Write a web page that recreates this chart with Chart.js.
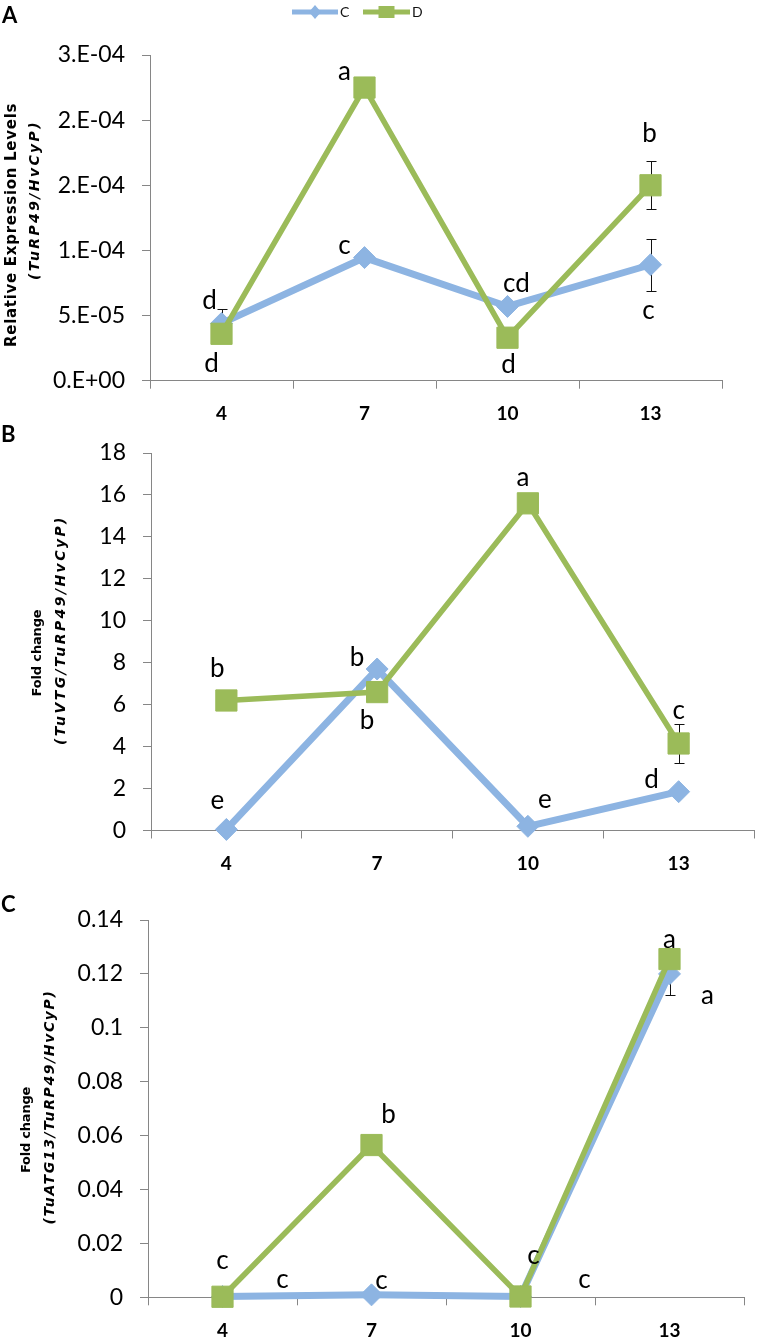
<!DOCTYPE html>
<html>
<head>
<meta charset="utf-8">
<script src="https://cdn.jsdelivr.net/npm/chart.js@4.4.1/dist/chart.umd.min.js"></script>
<style>
  html, body { margin: 0; padding: 0; background: #fff; overflow: hidden; }
  #wrap { position: relative; width: 770px; height: 1340px; overflow: hidden; }
  canvas { position: absolute; left: 0; }
</style>
</head>
<body>
<div id="wrap">
  <canvas id="chartA" width="770" height="430" style="top:0px;width:770px;height:430px"></canvas>
  <canvas id="chartB" width="770" height="460" style="top:420px;width:770px;height:460px"></canvas>
  <canvas id="chartC" width="770" height="467" style="top:880px;width:770px;height:467px"></canvas>
</div>
<script>
// days after treatment (x categories, shared by the three panels)
const days = ['4', '7', '10', '13'];
const seriesNames = ['C', 'D'];

// A - relative expression TuRP49/HvCyP
const relC = [4.4e-5, 9.45e-5, 5.7e-5, 8.9e-5];
const relD = [3.6e-5, 2.25e-4, 3.3e-5, 1.5e-4];
const relErrC = [1.1e-5, 0, 0, 2.0e-5];
const relErrD = [0, 0, 0, 1.85e-5];
const relTicks = ['0.E+00', '5.E-05', '1.E-04', '2.E-04', '2.E-04', '3.E-04'];
const relLetC = ['d', 'c', 'cd', 'c'];
const relLetD = ['d', 'a', 'd', 'b'];

// B - fold change TuVTG
const vtgC = [0.05, 7.7, 0.2, 1.85];
const vtgD = [6.2, 6.6, 15.6, 4.15];
const vtgErrC = [0, 0, 0, 0];
const vtgErrD = [0, 0, 0, 0.93];
const vtgTicks = ['0', '2', '4', '6', '8', '10', '12', '14', '16', '18'];
const vtgLetC = ['e', 'b', 'e', 'd'];
const vtgLetD = ['b', 'b', 'a', 'c'];

// C - fold change TuATG13
const atgC = [0.0003, 0.0009, 0.0003, 0.12];
const atgD = [0.0002, 0.0565, 0.0003, 0.1255];
const atgErrC = [0, 0, 0, 0.008];
const atgErrD = [0, 0, 0, 0];
const atgTicks = ['0', '0.02', '0.04', '0.06', '0.08', '0.1', '0.12', '0.14'];
const atgLetC = ['c', 'c', 'c', 'a'];
const atgLetD = ['c', 'b', 'c', 'a'];

const blue = '#8DB4E2';
const green = '#9BBB59';
const axisGrey = '#868686';

// error bars, significance letters, rotated axis titles, panel letter, legend
const decor = {
  id: 'decor',
  beforeDatasetsDraw(chart) {
    const ctx = chart.ctx;
    const y = chart.scales.y;
    ctx.save();
    ctx.strokeStyle = '#111';
    ctx.lineWidth = 1;
    chart.data.datasets.forEach((ds, di) => {
      const meta = chart.getDatasetMeta(di);
      (ds.errors || []).forEach((e, i) => {
        if (!e) return;
        const px = Math.round(meta.data[i].x) + 0.5;
        const top = Math.round(y.getPixelForValue(ds.data[i] + e)) + 0.5;
        const bot = Math.round(y.getPixelForValue(ds.data[i] - e)) + 0.5;
        ctx.beginPath();
        ctx.moveTo(px, top); ctx.lineTo(px, bot);
        ctx.moveTo(px - 5, top); ctx.lineTo(px + 5, top);
        ctx.moveTo(px - 5, bot); ctx.lineTo(px + 5, bot);
        ctx.stroke();
      });
    });
    ctx.restore();
  },
  afterDatasetsDraw(chart) {
    const ctx = chart.ctx;
    ctx.save();
    ctx.fillStyle = '#000';
    ctx.font = '26px Lato';
    ctx.textAlign = 'center';
    ctx.textBaseline = 'alphabetic';
    chart.data.datasets.forEach((ds, di) => {
      const meta = chart.getDatasetMeta(di);
      (ds.letters || []).forEach((t, i) => {
        const off = ds.letterOffsets[i];
        ctx.fillText(t, meta.data[i].x + off[0], meta.data[i].y + off[1]);
      });
    });
    ctx.restore();
  },
  afterDraw(chart, args, opts) {
    const ctx = chart.ctx;
    const top = opts.top;
    ctx.save();
    ctx.fillStyle = '#000';
    // y axis title: two rotated lines, spaced out to the reference length
    opts.titles.forEach(l => {
      ctx.save();
      ctx.font = l.font;
      ctx.letterSpacing = '0px';
      const w = ctx.measureText(l.text).width;
      const gap = (l.len - w) / l.text.length;
      ctx.letterSpacing = gap.toFixed(2) + 'px';
      ctx.translate(l.x, l.y - top);
      ctx.rotate(-Math.PI / 2);
      ctx.textAlign = 'left';
      ctx.textBaseline = 'middle';
      ctx.fillText(l.text, -l.len / 2, 0);
      ctx.restore();
    });
    // panel letter
    ctx.font = 'bold 22px Lato';
    ctx.textAlign = 'left';
    ctx.textBaseline = 'alphabetic';
    ctx.fillText(opts.panel.text, opts.panel.x, opts.panel.y - top);
    // legend (line with marker, like the spreadsheet legend)
    if (opts.legend) {
      const lg = opts.legend;
      chart.data.datasets.forEach((ds, di) => {
        const it = lg.items[di];
        const cx = (it.x0 + it.x1) / 2;
        ctx.strokeStyle = ds.borderColor;
        ctx.fillStyle = ds.borderColor;
        ctx.lineWidth = 5;
        ctx.beginPath();
        ctx.moveTo(it.x0, lg.y); ctx.lineTo(it.x1, lg.y);
        ctx.stroke();
        ctx.beginPath();
        if (ds.pointStyle === 'rectRot') {
          ctx.moveTo(cx - 6, lg.y); ctx.lineTo(cx, lg.y - 7);
          ctx.lineTo(cx + 6, lg.y); ctx.lineTo(cx, lg.y + 7);
          ctx.closePath();
        } else {
          ctx.rect(cx - 8, lg.y - 6, 16, 12);
        }
        ctx.fill();
        ctx.fillStyle = '#111';
        ctx.font = '14px Lato';
        ctx.fillText(ds.label, it.x1 + 2, lg.y + 5);
      });
    }
    ctx.restore();
  }
};

function lineSet(name, values, errors, letters, offsets) {
  const isC = name === 'C';
  const col = isC ? blue : green;
  return {
    label: name,
    data: values,
    errors: errors,
    letters: letters,
    letterOffsets: offsets,
    borderColor: col,
    backgroundColor: col,
    borderWidth: isC ? 7 : 5.5,
    pointStyle: isC ? 'rectRot' : 'rect',
    pointRadius: isC ? 11 : 15,
    pointBackgroundColor: col,
    pointBorderColor: col,
    pointBorderWidth: 1,
    tension: 0,
    clip: false,
    order: isC ? 1 : 0
  };
}

function panelChart(id, box, yRange, tickLabels, sets, decorOpts) {
  return new Chart(document.getElementById(id), {
    type: 'line',
    data: { labels: days, datasets: sets },
    options: {
      responsive: false,
      animation: false,
      events: [],
      layout: { padding: { left: 0, top: box.plotTop - box.top, right: 770 - box.plotRight, bottom: 0 } },
      plugins: {
        legend: { display: false },
        tooltip: { enabled: false },
        decor: decorOpts
      },
      scales: {
        x: {
          offset: true,
          grid: { offset: true, drawOnChartArea: false, tickLength: 8, color: axisGrey },
          border: { color: axisGrey },
          ticks: { color: '#000', font: { family: 'Lato', weight: 'bold', size: 19 }, padding: 14 },
          afterFit: s => { s.height = box.top + box.height - box.plotBottom; }
        },
        y: {
          min: yRange[0],
          max: yRange[1],
          grid: { drawOnChartArea: false, tickLength: 8, color: axisGrey },
          border: { color: axisGrey },
          ticks: {
            stepSize: yRange[2],
            color: '#000',
            font: { family: 'Lato', size: 23 },
            padding: 17,
            callback: (v, i) => tickLabels[i]
          },
          afterFit: s => { s.width = box.plotLeft; }
        }
      }
    },
    plugins: [decor]
  });
}

// panel A
panelChart('chartA',
  { top: 0, height: 430, plotLeft: 150, plotRight: 722, plotTop: 55, plotBottom: 380.7 },
  [0, 2.5e-4, 5e-5], relTicks,
  [
    lineSet(seriesNames[0], relC, relErrC, relLetC, [[-12, -14], [-20, -4], [9, -14], [-2, 54]]),
    lineSet(seriesNames[1], relD, relErrD, relLetD, [[-10, 38], [-20, -8], [1, 35], [-1, -43]])
  ],
  {
    top: 0,
    titles: [
      { text: 'Relative Expression Levels', font: 'bold 15px "DejaVu Sans"', x: 12, y: 225, len: 244 },
      { text: '(TuRP49/HvCyP)', font: 'italic bold 14px "DejaVu Sans"', x: 35, y: 200, len: 160 }
    ],
    panel: { text: 'A', x: 2, y: 23 },
    legend: { y: 12, items: [{ x0: 292, x1: 338 }, { x0: 363, x1: 410 }] }
  });

// panel B
panelChart('chartB',
  { top: 420, height: 460, plotLeft: 151, plotRight: 767, plotTop: 453, plotBottom: 830.5 },
  [0, 18, 2], vtgTicks,
  [
    lineSet(seriesNames[0], vtgC, vtgErrC, vtgLetC, [[-9, -20], [-20, -3], [17, -18], [-27, -4]]),
    lineSet(seriesNames[1], vtgD, vtgErrD, vtgLetD, [[-9, -23], [-10, 37], [-5, -17], [0, -24]])
  ],
  {
    top: 420,
    titles: [
      { text: 'Fold change', font: 'bold 13px "DejaVu Sans"', x: 38, y: 653, len: 87 },
      { text: '(TuVTG/TuRP49/HvCyP)', font: 'italic bold 14px "DejaVu Sans"', x: 61, y: 630, len: 230 }
    ],
    panel: { text: 'B', x: 1, y: 442 }
  });

// panel C
panelChart('chartC',
  { top: 880, height: 467, plotLeft: 148, plotRight: 744, plotTop: 920, plotBottom: 1297.3 },
  [0, 0.14, 0.02], atgTicks,
  [
    lineSet(seriesNames[0], atgC, atgErrC, atgLetC, [[60, -8], [10, -6], [64, -8], [38, 30]]),
    lineSet(seriesNames[1], atgD, atgErrD, atgLetD, [[0, -28], [17, -22], [13, -32], [0, -11]])
  ],
  {
    top: 880,
    titles: [
      { text: 'Fold change', font: 'bold 13px "DejaVu Sans"', x: 27, y: 1130, len: 86 },
      { text: '(TuATG13/TuRP49/HvCyP)', font: 'italic bold 14px "DejaVu Sans"', x: 50, y: 1107, len: 235 }
    ],
    panel: { text: 'C', x: 1, y: 912 }
  });
</script>
</body>
</html>
